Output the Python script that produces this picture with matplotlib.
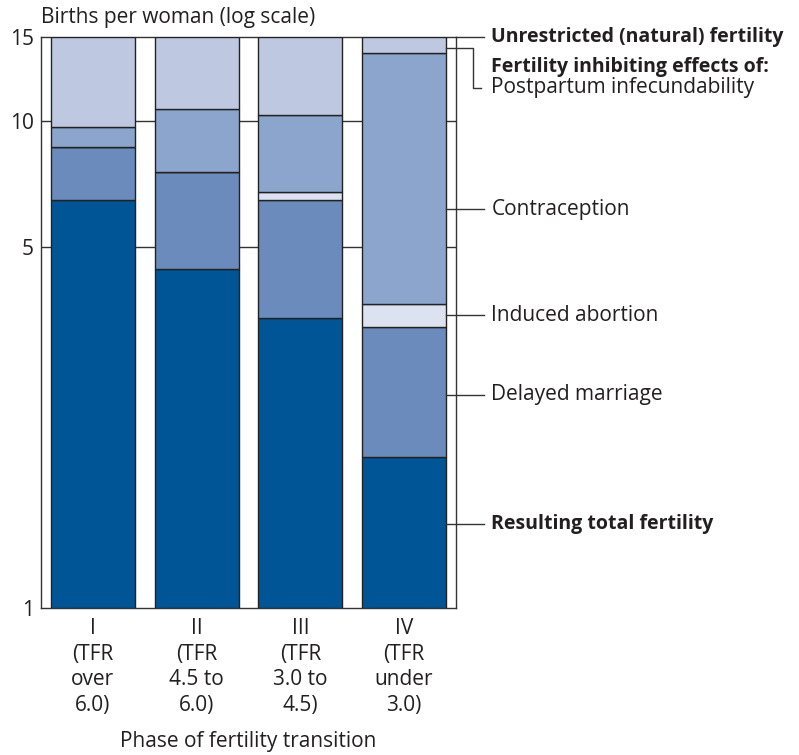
import numpy as np
import matplotlib
matplotlib.use("Agg")
import matplotlib.pyplot as plt
from matplotlib.scale import FuncScale

# ---- data (births per woman; cumulative levels of each bar layer) ----
phases = ["I\n(TFR\nover\n6.0)", "II\n(TFR\n4.5 to\n6.0)", "III\n(TFR\n3.0 to\n4.5)", "IV\n(TFR\nunder\n3.0)"]
resulting_tfr = [6.46, 4.53, 3.64, 1.96]
with_marriage = [8.65, 7.57, 6.46, 3.50]      # + delayed marriage
with_abortion = [8.65, 7.57, 6.76, 3.87]      # + induced abortion
with_contraception = [9.68, 10.61, 10.31, 13.87]  # + contraception
natural_fertility = [15, 15, 15, 15]          # + postpartum infecundability
yticks = [1, 5, 10, 15]

series_names = ["Resulting total fertility", "Delayed marriage", "Induced abortion",
                "Contraception", "Postpartum infecundability"]
colors = ["#005596", "#6a8bbb", "#dce2ef", "#8ba5cc", "#bec8e0"]

ink = "#231f20"
plt.rcParams['font.family'] = ['Open Sans', 'DejaVu Sans']
FS = 15
FSB = 14

# the chart's hand-drawn "log" axis: piecewise-logarithmic scale
_kv = np.log(np.array(yticks, dtype=float))
_kp = np.array([0.0, 361.0, 487.0, 571.0])
def fwd(v):
    v = np.clip(np.asarray(v, dtype=float), 1e-6, None)
    return np.interp(np.log(v), _kv, _kp)
def inv(p):
    return np.exp(np.interp(np.asarray(p, dtype=float), _kp, _kv))

fig = plt.figure(figsize=(7.99, 7.55), dpi=100)
ax = fig.add_axes([41/799, 147/755, 415/799, 571/755])
ax.set_yscale(FuncScale(ax.yaxis, (fwd, inv)))
ax.set_ylim(1, 15)
ax.set_xlim(-0.5, 3.5)

x = np.arange(len(phases))
levels = [np.ones(4), resulting_tfr, with_marriage, with_abortion, with_contraception, natural_fertility]
for i in range(5):
    bottom = np.array(levels[i], dtype=float)
    top = np.array(levels[i + 1], dtype=float)
    ax.bar(x, top - bottom, bottom=bottom, width=0.81, color=colors[i],
           edgecolor="#222222", linewidth=1.0, zorder=3)

# grid lines
for g in [5, 10]:
    ax.axhline(g, color="#333333", lw=1.0, zorder=1)

for s in ax.spines.values():
    s.set_color("#333333")
    s.set_linewidth(1.0)

ax.set_yticks(yticks)
ax.set_yticklabels([str(t) for t in yticks])
ax.yaxis.set_minor_locator(matplotlib.ticker.NullLocator())
ax.tick_params(axis="y", length=0, pad=5, labelsize=FS, colors=ink)
ax.set_xticks(x)
ax.set_xticklabels(phases, linespacing=1.3)
ax.tick_params(axis="x", length=0, pad=7, labelsize=FS, colors=ink)

fig.text(248/799, 1 - 742/755, "Phase of fertility transition", fontsize=FS, color=ink,
         ha="center", va="center")
fig.text(41/799, 1 - 17/755, "Births per woman (log scale)", fontsize=FS, color=ink,
         ha="left", va="center")

# leader lines and labels on the right
lc = "#333333"
def leader(xs, ys):
    ax.plot(xs, ys, color=lc, lw=1.0, clip_on=False, zorder=4)

tx = 3.84
leader([3.5, 3.77], [15, 15])
ax.text(tx, 15, "Unrestricted (natural) fertility", fontsize=FSB, fontweight="bold",
        color=ink, va="center", ha="left", clip_on=False)
ax.text(tx, 13.0, "Fertility inhibiting effects of:", fontsize=FSB, fontweight="bold",
        color=ink, va="center", ha="left", clip_on=False)
leader([3.405, 3.664, 3.664, 3.74], [14.22, 14.22, 11.73, 11.73])
ax.text(tx, 11.73, series_names[4], fontsize=FS, color=ink, va="center", ha="left")
for name, yv, bold in [(series_names[3], 6.16, False), (series_names[2], 3.69, False),
                       (series_names[1], 2.585, False), (series_names[0], 1.454, True)]:
    leader([3.405, 3.77], [yv, yv])
    ax.text(tx, yv, name, fontsize=FSB if bold else FS, color=ink, va="center", ha="left",
            fontweight="bold" if bold else "normal")

fig.savefig("out.png", dpi=100)
